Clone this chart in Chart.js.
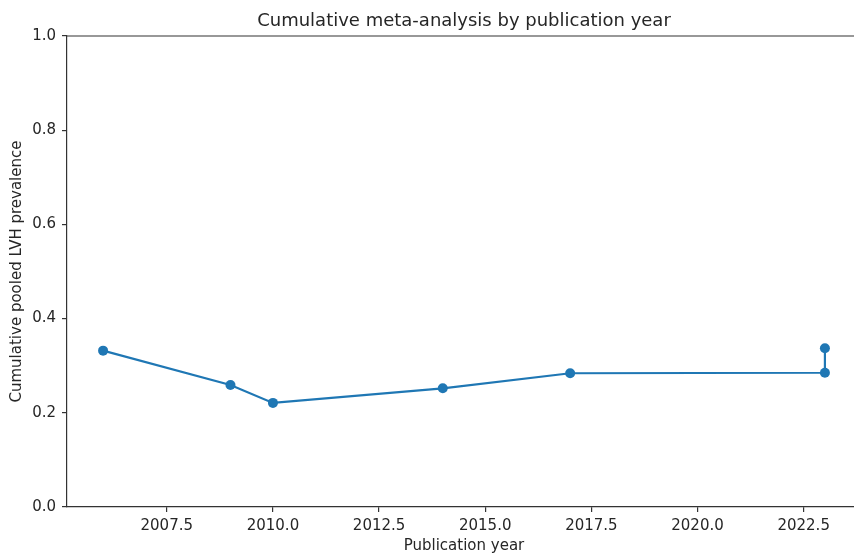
<!DOCTYPE html>
<html>
<head>
<meta charset="utf-8">
<script src="https://cdn.jsdelivr.net/npm/chart.js@4.4.1/dist/chart.umd.min.js"></script>
<style>
  html, body { margin: 0; padding: 0; background: #fff; overflow: hidden; }
  #wrap { width: 866px; height: 559px; }
</style>
</head>
<body>
<div id="wrap"><canvas id="cumulativeChart"></canvas></div>
<script>
const years = [2006, 2009, 2010, 2014, 2017, 2023, 2023];
const pooled = [0.332, 0.259, 0.221, 0.252, 0.284, 0.285, 0.337];
const xTicks = [2007.5, 2010.0, 2012.5, 2015.0, 2017.5, 2020.0, 2022.5];
const yTicks = [0.0, 0.2, 0.4, 0.6, 0.8, 1.0];

const textColor = '#262626';
const spineColor = '#333';
const fontFamily = "'DejaVu Sans', sans-serif";

// matplotlib draws a top spine, Chart.js doesn't
const topSpine = {
    id: 'topSpine',
    afterDraw(chart) {
        const { ctx, chartArea } = chart;
        ctx.save();
        ctx.strokeStyle = spineColor;
        ctx.lineWidth = 1.2;
        ctx.beginPath();
        ctx.moveTo(chartArea.left, chartArea.top);
        ctx.lineTo(chartArea.right, chartArea.top);
        ctx.stroke();
        ctx.restore();
    }
};

new Chart(document.getElementById('cumulativeChart'), {
    type: 'scatter',
    data: {
        datasets: [{
            data: years.map((y, i) => ({ x: y, y: pooled[i] })),
            showLine: true,
            borderColor: '#1f77b4',
            backgroundColor: '#1f77b4',
            borderWidth: 2.2,
            pointRadius: 5,
            pointHoverRadius: 5,
            pointBorderWidth: 0
        }]
    },
    options: {
        responsive: true,
        maintainAspectRatio: false,
        animation: false,
        layout: { padding: { left: 0, right: 2, top: 0, bottom: 0 } },
        plugins: {
            legend: { display: false },
            tooltip: { enabled: false },
            title: {
                display: true,
                fullSize: false,
                text: 'Cumulative meta-analysis by publication year',
                color: textColor,
                font: { family: fontFamily, size: 18, weight: 'normal' },
                padding: { top: 11, bottom: 3.4 }
            }
        },
        scales: {
            x: {
                type: 'linear',
                min: 2005.15,
                max: 2023.85,
                afterBuildTicks: (scale) => { scale.ticks = xTicks.map(v => ({ value: v })); },
                afterFit: (scale) => { scale.height = 52; },
                ticks: {
                    color: textColor,
                    font: { family: fontFamily, size: 15 },
                    padding: 5,
                    maxRotation: 0,
                    callback: (v) => Number(v).toFixed(1)
                },
                grid: { drawOnChartArea: false, drawTicks: true, tickLength: 5, color: spineColor, lineWidth: 1.2 },
                border: { display: true, color: spineColor, width: 1.2 },
                title: {
                    display: true,
                    text: 'Publication year',
                    color: textColor,
                    font: { family: fontFamily, size: 15 },
                    padding: { top: 0, bottom: 4 }
                }
            },
            y: {
                min: 0,
                max: 1,
                afterBuildTicks: (scale) => { scale.ticks = yTicks.map(v => ({ value: v })); },
                afterFit: (scale) => { scale.width = 67; },
                ticks: {
                    color: textColor,
                    font: { family: fontFamily, size: 15 },
                    padding: 6,
                    callback: (v) => Number(v).toFixed(1)
                },
                grid: { drawOnChartArea: false, drawTicks: true, tickLength: 5, color: spineColor, lineWidth: 1.2 },
                border: { display: true, color: spineColor, width: 1.2 },
                title: {
                    display: true,
                    text: 'Cumulative pooled LVH prevalence',
                    color: textColor,
                    font: { family: fontFamily, size: 15 },
                    padding: { top: 8, bottom: 0 }
                }
            }
        }
    },
    plugins: [topSpine]
});
</script>
</body>
</html>
